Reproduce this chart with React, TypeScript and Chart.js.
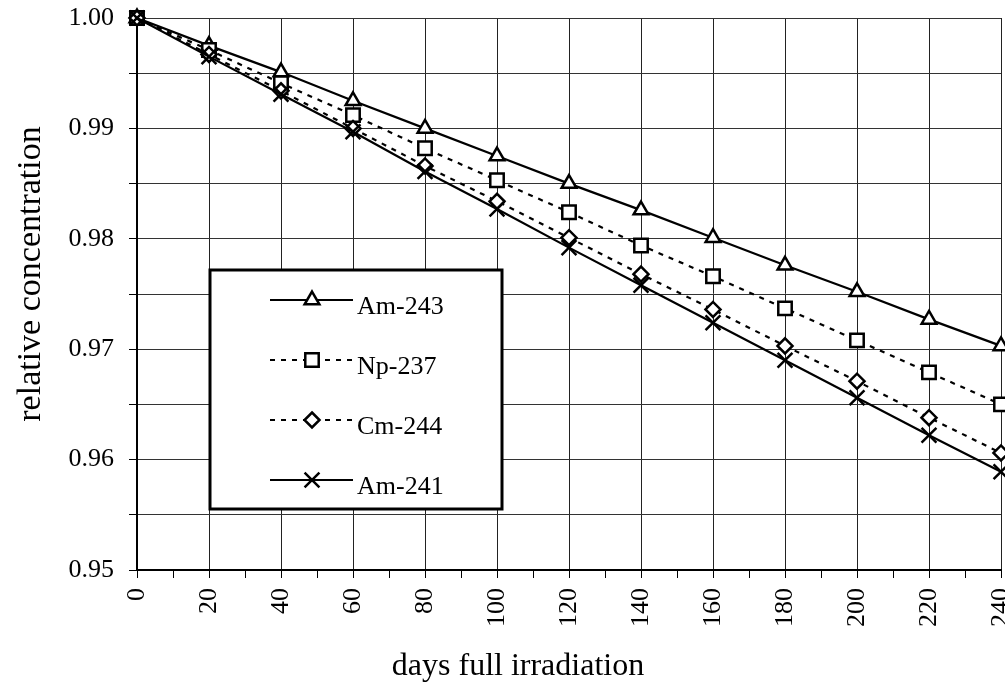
import React, { useEffect, useRef } from 'react';
import { Chart, registerables } from 'chart.js';

Chart.register(...registerables);

// ---- data ----
const days = [0, 20, 40, 60, 80, 100, 120, 140, 160, 180, 200, 220, 240];
const am243 = [1.0, 0.9975, 0.9951, 0.9925, 0.99, 0.9875, 0.985, 0.9826, 0.9801, 0.9776, 0.9752, 0.9727, 0.9703];
const np237 = [1.0, 0.9971, 0.9941, 0.9912, 0.9882, 0.9853, 0.9824, 0.9794, 0.9766, 0.9737, 0.9708, 0.9679, 0.965];
const cm244 = [1.0, 0.9967, 0.9934, 0.99, 0.9866, 0.9834, 0.9801, 0.9768, 0.9736, 0.9703, 0.9671, 0.9638, 0.9606];
const am241 = [1.0, 0.9965, 0.9931, 0.9897, 0.9861, 0.9827, 0.9792, 0.9758, 0.9724, 0.969, 0.9656, 0.9622, 0.9589];

const seriesNames = ['Am-243', 'Np-237', 'Cm-244', 'Am-241'];
const xTitle = 'days full irradiation';
const yTitle = 'relative concentration';
const yMin = 0.95;
const yMax = 1.0;
const xMin = 0;
const xMax = 240;

const FONT = "'Liberation Serif', 'Times New Roman', serif";

function drawMarker(ctx: CanvasRenderingContext2D, style: string, x: number, y: number, r: number) {
  ctx.beginPath();
  if (style === 'triangle') {
    ctx.moveTo(x, y - r);
    ctx.lineTo(x + 0.866 * r, y + 0.5 * r);
    ctx.lineTo(x - 0.866 * r, y + 0.5 * r);
    ctx.closePath();
    ctx.fill();
    ctx.stroke();
  } else if (style === 'rect') {
    const s = Math.SQRT1_2 * r;
    ctx.rect(x - s, y - s, 2 * s, 2 * s);
    ctx.fill();
    ctx.stroke();
  } else if (style === 'rectRot') {
    ctx.moveTo(x, y - r);
    ctx.lineTo(x + r, y);
    ctx.lineTo(x, y + r);
    ctx.lineTo(x - r, y);
    ctx.closePath();
    ctx.fill();
    ctx.stroke();
  } else if (style === 'crossRot') {
    const o = Math.SQRT1_2 * r;
    ctx.moveTo(x - o, y - o);
    ctx.lineTo(x + o, y + o);
    ctx.moveTo(x + o, y - o);
    ctx.lineTo(x - o, y + o);
    ctx.stroke();
  }
}

const boxLegend = {
  id: 'boxLegend',
  afterDraw(chart: any) {
    const ctx: CanvasRenderingContext2D = chart.ctx;
    const area = chart.chartArea;
    const bx = area.left + 73;
    const by = area.top + 252;
    const bw = 292;
    const bh = 239;
    ctx.save();
    ctx.fillStyle = '#fff';
    ctx.fillRect(bx, by, bw, bh);
    ctx.lineWidth = 3;
    ctx.strokeStyle = '#000';
    ctx.strokeRect(bx, by, bw, bh);
    chart.data.datasets.forEach((ds: any, i: number) => {
      const cy = by + 30 + i * 60;
      ctx.strokeStyle = '#000';
      ctx.lineWidth = 2;
      ctx.setLineDash(ds.borderDash || []);
      ctx.beginPath();
      ctx.moveTo(bx + 60, cy);
      ctx.lineTo(bx + 143, cy);
      ctx.stroke();
      ctx.setLineDash([]);
      ctx.fillStyle = '#fff';
      ctx.lineWidth = ds.pointBorderWidth;
      drawMarker(ctx, ds.pointStyle, bx + 102, cy, ds.pointRadius);
      ctx.fillStyle = '#000';
      ctx.font = `26px ${FONT}`;
      ctx.textAlign = 'left';
      ctx.textBaseline = 'alphabetic';
      ctx.fillText(ds.label, bx + 147, cy + 14);
    });
    ctx.restore();
  },
};

const axisTitles = {
  id: 'axisTitles',
  afterDraw(chart: any) {
    const ctx: CanvasRenderingContext2D = chart.ctx;
    ctx.save();
    ctx.fillStyle = '#000';
    ctx.textAlign = 'center';
    ctx.textBaseline = 'alphabetic';
    ctx.font = `32px ${FONT}`;
    ctx.fillText(xTitle, 518, 675);
    ctx.font = `34px ${FONT}`;
    ctx.translate(40, 274);
    ctx.rotate(-Math.PI / 2);
    ctx.fillText(yTitle, 0, 0);
    ctx.restore();
  },
};

export default function App() {
  const ref = useRef<HTMLCanvasElement>(null);

  useEffect(() => {
    const mk = (vals: number[]) => days.map((d, i) => ({ x: d, y: vals[i] }));
    const common = {
      borderColor: '#000',
      borderWidth: 2.2,
      pointBackgroundColor: '#fff',
      pointBorderColor: '#000',
      pointBorderWidth: 2.5,
      fill: false,
      tension: 0,
      clip: false,
    };
    const chart = new Chart(ref.current as HTMLCanvasElement, {
      type: 'line',
      data: {
        datasets: [
          { ...common, label: seriesNames[0], data: mk(am243), pointStyle: 'triangle', pointRadius: 8.5, order: 3 },
          { ...common, label: seriesNames[1], data: mk(np237), pointStyle: 'rect', pointRadius: 9.5, borderDash: [5, 6], order: 2 },
          { ...common, label: seriesNames[2], data: mk(cm244), pointStyle: 'rectRot', pointRadius: 7.5, borderDash: [5, 6], order: 1 },
          { ...common, label: seriesNames[3], data: mk(am241), pointStyle: 'crossRot', pointRadius: 10.5, order: 0 },
        ] as any,
      },
      options: {
        responsive: false,
        animation: false,
        devicePixelRatio: 1,
        layout: { autoPadding: false, padding: { top: 18, right: 4, left: 0, bottom: 0 } },
        plugins: {
          legend: { display: false },
          tooltip: { enabled: false },
        },
        scales: {
          x: {
            type: 'linear',
            min: xMin,
            max: xMax,
            afterFit(scale: any) {
              scale.height = 120;
              scale.paddingLeft = 0;
              scale.paddingRight = 0;
            },
            border: { color: '#000', width: 2 },
            grid: {
              color: (c: any) => (c.tick && Math.round(c.tick.value) % 20 === 0 ? '#222' : 'rgba(0,0,0,0)'),
              tickColor: '#000',
              tickLength: 8,
              lineWidth: 1,
            },
            ticks: {
              stepSize: 10,
              autoSkip: false,
              minRotation: 90,
              maxRotation: 90,
              padding: 10,
              color: '#000',
              font: { family: FONT, size: 26 },
              callback: (v: any) => (Math.round(Number(v)) % 20 === 0 ? String(Math.round(Number(v))) : ''),
            },
          },
          y: {
            type: 'linear',
            min: yMin,
            max: yMax,
            afterFit(scale: any) {
              scale.width = 137;
              scale.paddingTop = 0;
              scale.paddingBottom = 0;
            },
            border: { color: '#000', width: 2 },
            grid: {
              color: '#333',
              tickColor: '#000',
              tickLength: 8,
              lineWidth: 1,
            },
            ticks: {
              stepSize: 0.005,
              autoSkip: false,
              padding: 15,
              color: '#000',
              font: { family: FONT, size: 26 },
              callback: (v: any) => (Math.round(Number(v) * 1000) % 10 === 0 ? Number(v).toFixed(2) : ''),
            },
          },
        },
      } as any,
      plugins: [boxLegend, axisTitles],
    });
    return () => chart.destroy();
  }, []);

  return (
    <div style={{ position: 'absolute', left: 0, top: 0, width: 1005, height: 690, background: '#fff' }}>
      <canvas ref={ref} width={1005} height={690} style={{ display: 'block', width: 1005, height: 690 }} />
    </div>
  );
}
